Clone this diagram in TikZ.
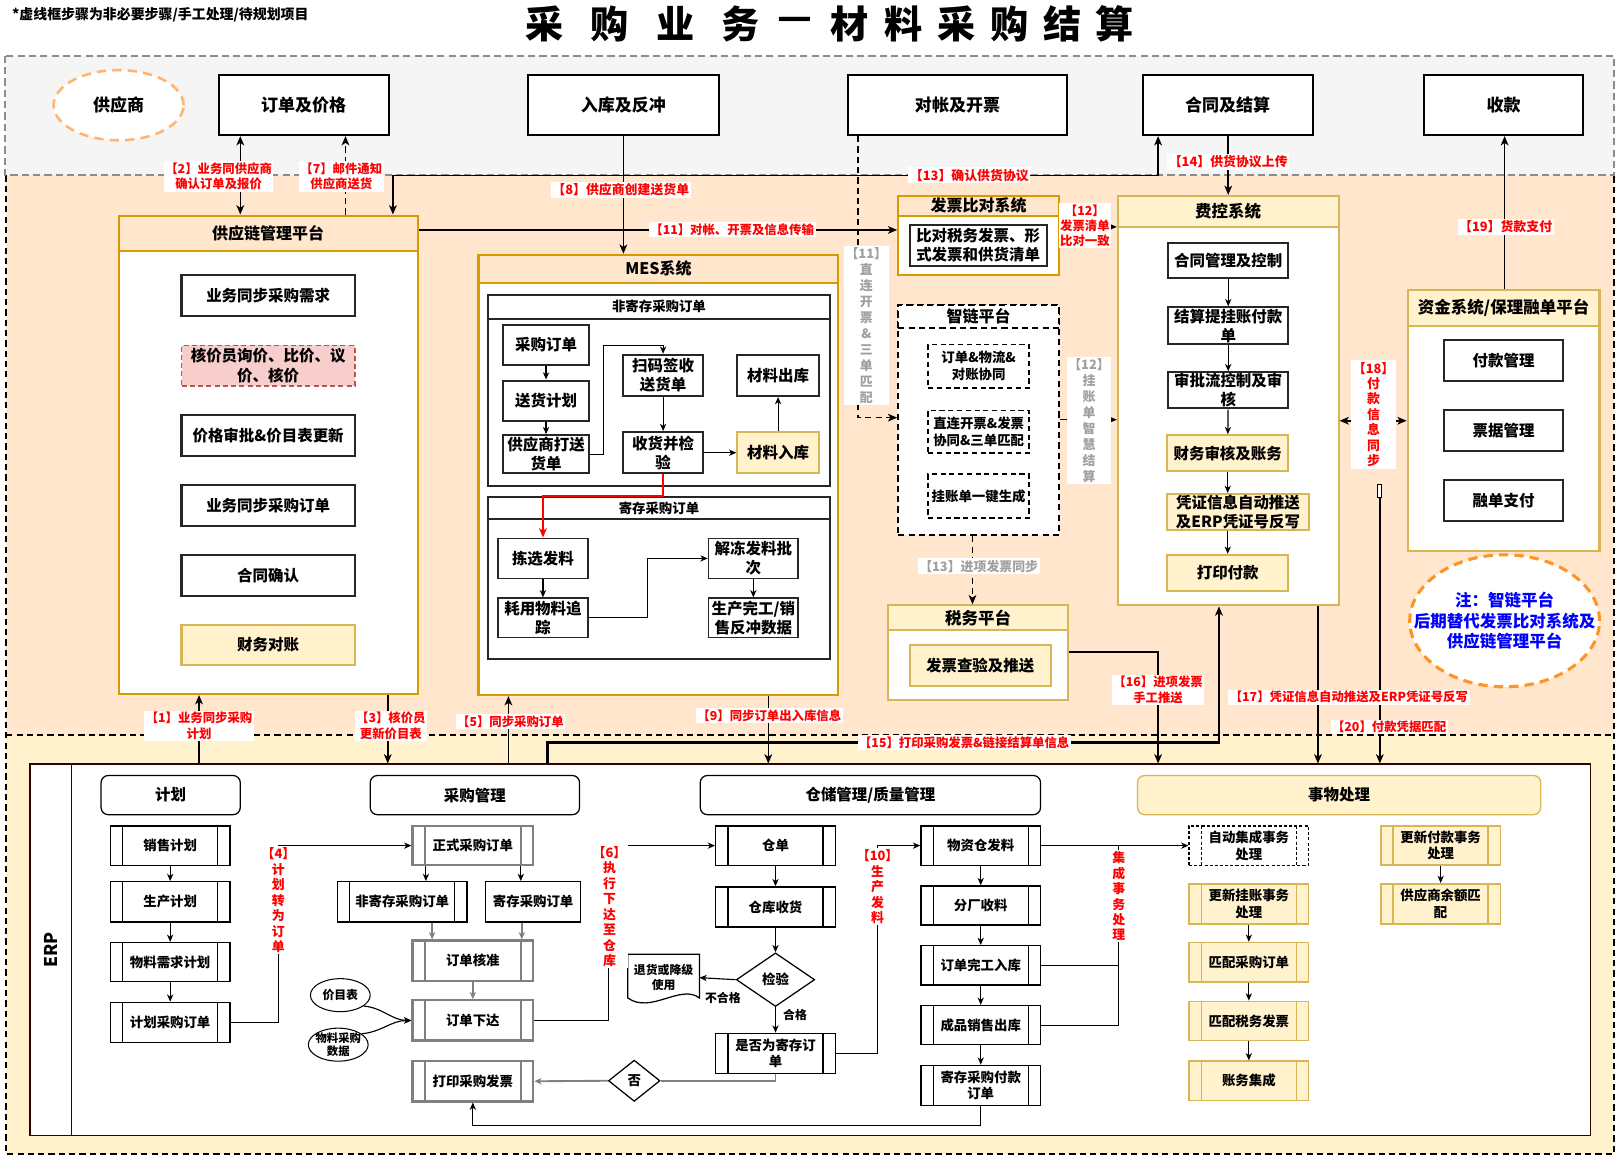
\documentclass[tikz,border=0pt]{standalone}
\usepackage{fontspec}
\setmainfont{Noto Sans CJK SC}
\usetikzlibrary{arrows.meta,shapes.geometric,calc}
\definecolor{grayband}{HTML}{F5F5F5}
\definecolor{grayline}{HTML}{8C8C8C}
\definecolor{orband}{HTML}{FFE6CC}
\definecolor{yelband}{HTML}{FFF2CC}
\definecolor{orline}{HTML}{D79B00}
\definecolor{yelline}{HTML}{D6B656}
\definecolor{pinkf}{HTML}{F8CECC}
\definecolor{pinkl}{HTML}{B85450}
\definecolor{supline}{HTML}{FFB570}
\definecolor{noteline}{HTML}{FF9326}
\definecolor{redt}{HTML}{FF0000}
\definecolor{grayt}{HTML}{A0A0A0}
\definecolor{bluet}{HTML}{0000FF}
\definecolor{boxgray}{HTML}{808080}
\definecolor{erpline}{HTML}{330000}
\newcommand{\fz}[2]{\fontsize{#1pt}{#2pt}\selectfont\bfseries}
\newcommand{\RB}[7]{%
  \pgfmathsetmacro{\rbx}{(#3+#5)/2}%
  \pgfmathsetmacro{\rby}{(#4+#6)/2}%
  \pgfmathsetmacro{\rbw}{#5-#3}%
  \pgfmathsetmacro{\rbh}{#6-#4}%
  \node[#1, minimum width=\rbw pt, minimum height=\rbh pt] (#2) at (\rbx,\rby) {#7};}
\tikzset{
  base/.style={rectangle, inner sep=0.5pt, align=center},
  tbox/.style={base, draw=black, line width=2pt, fill=white, font=\fz{16.5}{20}},
  ibox/.style={base, draw=black!85, line width=2pt, fill=white, font=\fz{15}{18.5}},
  ybox/.style={base, draw=yelline, line width=2pt, fill=yelband, font=\fz{15}{18.5}},
  contor/.style={base, draw=orline, line width=2pt, fill=white},
  heador/.style={base, draw=orline, line width=2pt, fill=orband, font=\fz{15.5}{18}},
  contyl/.style={base, draw=yelline, line width=2pt, fill=white},
  headyl/.style={base, draw=yelline, line width=2pt, fill=yelband, font=\fz{16}{19}},
  contdash/.style={base, draw=black, line width=2pt, dash pattern=on 6pt off 4pt, fill=white},
  headdash/.style={contdash, font=\fz{15.5}{18}},
  dbox/.style={base, draw=black, line width=1.8pt, dash pattern=on 5pt off 3.5pt, fill=white, font=\fz{13}{16.5}},
  subc/.style={base, draw=black!85, line width=2pt, fill=white},
  subh/.style={subc, font=\fz{13}{16}},
  proc/.style={path picture={\draw[#1] ([xshift=12pt]path picture bounding box.north west) -- ([xshift=12pt]path picture bounding box.south west) ([xshift=-12pt]path picture bounding box.north east) -- ([xshift=-12pt]path picture bounding box.south east);}},
  pb/.style={base, draw=black, line width=1.3pt, fill=white, font=\fz{13}{16}, proc={black, line width=1.3pt}},
  pg/.style={base, draw=boxgray, line width=2.2pt, fill=white, font=\fz{13}{16}, proc={boxgray, line width=2pt}},
  py/.style={base, draw=yelline, line width=1.5pt, fill=yelband, font=\fz{13}{16}, proc={yelline, line width=1.5pt}},
  pyd/.style={base, draw=black, line width=1.2pt, dash pattern=on 3pt off 2pt, fill=white, font=\fz{13}{16}, proc={black, line width=1.2pt, dash pattern=on 3pt off 2pt}},
  lanehd/.style={base, draw=black, line width=1.2pt, rounded corners=7pt, fill=white, font=\fz{15}{18}},
  arr/.style={line width=1.5pt, -{Stealth[length=9pt,width=7.5pt,inset=2.5pt]}},
  arrb/.style={line width=1.5pt, {Stealth[length=9pt,width=7.5pt,inset=2.5pt]}-{Stealth[length=9pt,width=7.5pt,inset=2.5pt]}},
  sarr/.style={line width=1.1pt, -{Stealth[length=7pt,width=6pt,inset=2pt]}},
  garr/.style={sarr, draw=boxgray, line width=1.8pt},
  sline/.style={line width=1.1pt},
  gline/.style={line width=1.8pt, draw=boxgray},
  rl/.style={base, fill=white, text=redt, font=\fz{12}{15}, inner sep=1.5pt},
  rlv/.style={rl, font=\fz{12.5}{15}},
  gl/.style={base, fill=white, text=grayt, font=\fz{12.5}{15.5}, inner sep=1.5pt},
  bandb/.style={draw=black, line width=1.8pt, dash pattern=on 6pt off 4pt},
}
\begin{document}
\begin{tikzpicture}[x=1pt,y=-1pt]
\useasboundingbox (0,0) rectangle (1568,1121);
\fill[white] (0,0) rectangle (1568,1121);
% ---------- bands
\fill[orband] (6,170) rectangle (1565,713);
\fill[yelband] (6,713) rectangle (1565,1119);
\draw[bandb] (6,170) -- (6,1119) -- (1565,1119) -- (1565,170);
\draw[bandb] (6,713) -- (1565,713);
\draw[draw=grayline, line width=1.8pt, dash pattern=on 7pt off 4pt, fill=grayband] (5,54) rectangle (1565,170);
% ---------- helper coordinates
\foreach \q in {69,193,233,270,335,376,381,413,419,493,505,506,531,585,590,628,745,832,851,943,1085,1123,1182,1191,1278,1459}
  \coordinate (v\q) at (\q,0);
\foreach \q in {170,220,223,335,405,407,408,481,632,720,1091}
  \coordinate (h\q) at (0,\q);
% ---------- title
\foreach \xx/\cc [count=\i] in {528/采,591/购,655/业,718/务,771/—,824/材,876/料,928/采,979/购,1030/结,1081/算}
  \node[base, font=\fz{37}{40}] (ttl\i) at (\xx,23) {\cc};
\node[base, anchor=west, font=\fz{13.5}{16}] (topnote) at (11,14) {*虚线框步骤为非必要步骤/手工处理/待规划项目};
% ---------- top band
\node[ellipse, draw=supline, line width=2.5pt, dash pattern=on 9pt off 6pt, fill=white, minimum width=126pt, minimum height=68pt, inner sep=0pt, font=\fz{16.5}{20}] (sup) at (115,102) {供应商};
\RB{tbox}{ordp}{212}{73}{377}{131}{订单及价格}
\RB{tbox}{rk}{512}{73}{697}{131}{入库及反冲}
\RB{tbox}{dz}{822}{73}{1035}{131}{对帐及开票}
\RB{tbox}{ht}{1108}{73}{1273}{131}{合同及结算}
\RB{tbox}{sk}{1381}{73}{1535}{131}{收款}
% ---------- supply chain platform
\RB{contor}{scm}{115}{209}{405}{673}{}
\RB{heador}{scmh}{115}{209}{405}{243}{供应链管理平台}
\RB{ibox}{s1}{176}{267}{344}{306}{业务同步采购需求}
\RB{ibox, fill=pinkf, draw=pinkl, line width=1.6pt, dash pattern=on 5pt off 3pt}{s2}{176}{335}{344}{374}{核价员询价、比价、议\\价、核价}
\RB{ibox}{s3}{176}{402}{344}{442}{价格审批\&价目表更新}
\RB{ibox}{s4}{176}{470}{344}{510}{业务同步采购订单}
\RB{ibox}{s5}{176}{538}{344}{578}{合同确认}
\RB{ybox}{s6}{176}{606}{344}{645}{财务对账}
% ---------- MES
\RB{contor}{mes}{464}{247}{813}{674}{}
\RB{heador}{mesh}{464}{247}{813}{274}{MES系统}
\RB{subc}{njc}{473}{286}{805}{471}{}
\RB{subh}{njch}{473}{286}{805}{309}{非寄存采购订单}
\RB{ibox}{m1}{488}{315}{571}{354}{采购订单}
\RB{ibox}{m2}{488}{369}{571}{408}{送货计划}
\RB{ibox}{m3}{488}{422}{571}{459}{供应商打送\\货单}
\RB{ibox}{m4}{604}{344}{682}{384}{扫码签收\\送货单}
\RB{ibox}{m5}{604}{419}{682}{459}{收货并检\\验}
\RB{ibox}{m6}{715}{344}{794}{384}{材料出库}
\RB{ybox}{m7}{715}{419}{794}{459}{材料入库}
\RB{subc}{jc}{473}{482}{805}{639}{}
\RB{subh}{jch}{473}{482}{805}{503}{寄存采购订单}
\RB{ibox, line width=1.5pt}{m8}{483}{522}{570}{561}{拣选发料}
\RB{ibox, line width=1.5pt}{m9}{483}{580}{570}{618}{耗用物料追\\踪}
\RB{ibox, line width=1.5pt}{m10}{687}{522}{774}{561}{解冻发料批\\次}
\RB{ibox, line width=1.5pt}{m11}{687}{580}{774}{618}{生产完工/销\\售反冲数据}
% ---------- invoice compare
\RB{contor}{fpbd}{871}{190}{1027}{267}{}
\RB{heador}{fpbdh}{871}{190}{1027}{209}{发票比对系统}
\RB{ibox}{fp1}{882}{218}{1015}{258}{比对税务发票、形\\式发票和供货清单}
% ---------- zhilian
\RB{contdash}{zl}{871}{296}{1027}{519}{}
\RB{headdash}{zlh}{871}{296}{1027}{318}{智链平台}
\RB{dbox}{z1}{900}{334}{998}{376}{订单\&物流\&\\对账协同}
\RB{dbox}{z2}{900}{398}{998}{439}{直连开票\&发票\\协同\&三单匹配}
\RB{dbox}{z3}{900}{460}{998}{502}{挂账单一键生成}
% ---------- tax
\RB{contyl}{sw}{861}{587}{1036}{679}{}
\RB{headyl}{swh}{861}{587}{1036}{611}{税务平台}
\RB{ybox}{sw1}{882}{625}{1019}{665}{发票查验及推送}
% ---------- fee control
\RB{contyl}{fk}{1084}{190}{1298}{587}{}
\RB{headyl}{fkh}{1084}{190}{1298}{220}{费控系统}
\RB{ibox}{f1}{1133}{236}{1249}{270}{合同管理及控制}
\RB{ibox}{f2}{1133}{298}{1249}{334}{结算提挂账付款\\单}
\RB{ibox}{f3}{1133}{361}{1249}{396}{审批流控制及审\\核}
\RB{ybox}{f4}{1132}{422}{1249}{457}{财务审核及账务}
\RB{ybox}{f5}{1132}{479}{1269}{514}{凭证信息自动推送\\及ERP凭证号反写}
\RB{ybox}{f6}{1132}{538}{1249}{573}{打印付款}
% ---------- funds
\RB{contyl}{zj}{1365}{281}{1551}{534}{}
\RB{headyl}{zjh}{1365}{281}{1551}{316}{资金系统/保理融单平台}
\RB{ibox}{j1}{1400}{330}{1516}{369}{付款管理}
\RB{ibox}{j2}{1400}{398}{1516}{437}{票据管理}
\RB{ibox}{j3}{1400}{465}{1516}{505}{融单支付}
% ---------- note
\node[ellipse, draw=noteline, line width=3pt, dash pattern=on 9pt off 6pt, fill=white, minimum width=184pt, minimum height=128pt, inner sep=0pt] (noteell) at (1459,602) {};
\node[base, text=bluet, font=\fz{16}{20}] (notetx) at (noteell.center) {注：智链平台\\后期替代发票比对系统及\\供应链管理平台};
\node[draw=black, line width=1pt, fill=white, minimum width=4pt, minimum height=12pt, inner sep=0pt] (m20) at (1338,476) {};
% ---------- ERP
\RB{base, draw=erpline, line width=1.3pt, fill=white}{erp}{29}{741}{1542}{1101}{}
\draw[draw=erpline, line width=1.1pt] (erp.north west -| v69) -- (erp.south west -| v69);
\node[base, rotate=90, font=\fz{17}{20}] (erplab) at (49,921) {ERP};
\RB{lanehd}{lh1}{98}{752}{233}{790}{计划}
\RB{lanehd}{lh2}{359}{752}{562}{790}{采购管理}
\RB{lanehd}{lh3}{679}{752}{1009}{790}{仓储管理/质量管理}
\RB{lanehd, fill=yelband, draw=yelline}{lh4}{1103}{752}{1494}{790}{事物处理}
\RB{pb}{e1}{107}{801}{223}{839}{销售计划}
\RB{pb}{e2}{107}{855}{223}{894}{生产计划}
\RB{pb}{e3}{107}{914}{223}{952}{物料需求计划}
\RB{pb}{e4}{107}{972}{223}{1011}{计划采购订单}
\RB{pg}{c1}{400}{801}{517}{839}{正式采购订单}
\RB{pb}{c2}{327}{855}{453}{894}{非寄存采购订单}
\RB{base, draw=black, line width=1.3pt, fill=white, font=\fz{13}{16}}{c3}{471}{855}{563}{894}{寄存采购订单}
\RB{pg}{c4}{400}{912}{517}{951}{订单核准}
\RB{pg}{c5}{400}{970}{517}{1009}{订单下达}
\RB{pg}{c6}{400}{1029}{517}{1068}{打印采购发票}
\node[ellipse, draw=black, line width=1pt, fill=white, minimum width=58pt, minimum height=32pt, inner sep=0pt, font=\fz{11.5}{13}] (c7) at (330,965) {价目表};
\node[ellipse, draw=black, line width=1pt, fill=white, minimum width=58pt, minimum height=32pt, inner sep=-3pt, align=center, font=\fz{11}{13}] (c8) at (328,1013) {物料采购\\数据};
\node[diamond, draw=black, line width=1.2pt, fill=white, minimum width=50pt, minimum height=40pt, inner sep=0pt, font=\fz{13}{16}] (fou) at (615,1048) {否};
\RB{pb}{w1}{694}{801}{810}{839}{仓单}
\RB{pb}{w2}{694}{860}{810}{899}{仓库收货}
\node[diamond, draw=black, line width=1.2pt, fill=white, minimum width=76pt, minimum height=52pt, inner sep=0pt, font=\fz{13}{16}] (w3) at (752,950) {检验};
\node[base, minimum width=69pt, minimum height=45pt, font=\fz{11.5}{15}] (w4) at (643.5,948) {退货或降级\\使用};
\draw[line width=1.2pt] (w4.north west) -- (w4.north east) -- ([yshift=3pt]w4.south east) .. controls +(-18,-14) and +(22,16) .. ([yshift=3pt]w4.south west) -- cycle;
\RB{pb}{w5}{694}{1002}{810}{1041}{是否为寄存订\\单}
\RB{pb}{w6}{893}{801}{1009}{839}{物资仓发料}
\RB{pb}{w7}{893}{859}{1009}{897}{分厂收料}
\RB{pb}{w8}{893}{917}{1009}{955}{订单完工入库}
\RB{pb}{w9}{893}{975}{1009}{1013}{成品销售出库}
\RB{pb}{w10}{893}{1033}{1009}{1072}{寄存采购付款\\订单}
\RB{pyd}{tx1}{1153}{801}{1269}{839}{自动集成事务\\处理}
\RB{py}{tx2}{1153}{857}{1269}{896}{更新挂账事务\\处理}
\RB{py}{tx3}{1153}{914}{1269}{952}{匹配采购订单}
\RB{py}{tx4}{1153}{971}{1269}{1009}{匹配税务发票}
\RB{py}{tx5}{1153}{1029}{1269}{1067}{账务集成}
\RB{py}{tx6}{1339}{801}{1455}{839}{更新付款事务\\处理}
\RB{py}{tx7}{1339}{857}{1455}{896}{供应商余额匹\\配}
% ---------- connectors: top / orange region
\draw[arrb] (ordp.south -| v233) -- (scm.north -| v233);
\draw[arr, dash pattern=on 6pt off 4pt] (scm.north -| v335) -- (ordp.south -| v335);
\draw[arrb] (scm.north -| v381) -- (v381 |- h170) -- (v1123 |- h170) -- (ht.south -| v1123);
\draw[arr] (rk.south) -- (rk.south |- mes.north);
\draw[arr] (scm.east |- h223) -- (fpbd.west |- h223);
\draw[arr, dash pattern=on 6pt off 4pt] (dz.south -| v832) -- (v832 |- h405) -- (zl.west |- h405);
\draw[arr] (fpbd.east |- h220) -- (fk.west |- h220);
\draw[arr] (zl.east |- h407) -- (fk.west |- h407);
\draw[arr, dash pattern=on 6pt off 4pt] (zl.south -| v943) -- (sw.north -| v943);
\draw[arr] (ht.south -| v1191) -- (fk.north -| v1191);
\draw[arr] (zj.north -| v1459) -- (sk.south -| v1459);
\draw[arrb] (fk.east |- h408) -- (zj.west |- h408);
\draw[arr] (m20.south) -- (m20.south |- erp.north);
\draw[arr] (fk.south -| v1278) -- (erp.north -| v1278);
\draw[arr] (sw.east |- h632) -| (erp.north -| v1123);
\draw[arr, line width=2.5pt] (erp.north -| v531) |- (v1182 |- h720) -- (fk.south -| v1182);
\draw[arr] (erp.north -| v193) -- (scm.south -| v193);
\draw[arr] (scm.south -| v376) -- (erp.north -| v376);
\draw[arr] (erp.north -| v493) -- (mes.south -| v493);
\draw[arr] (mes.south -| v745) -- (erp.north -| v745);
% MES internal
\draw[sarr] (m1) -- (m2);
\draw[sarr] (m2) -- (m3);
\draw[sarr] (m3.east) -- (v585 |- m3.east) -- (v585 |- h335) -- (m4.north |- h335) -- (m4.north);
\draw[sarr] (m4) -- (m5);
\draw[sarr] (m5) -- (m7);
\draw[sarr] (m7) -- (m6);
\draw[sarr, draw=redt, line width=2pt, -{Stealth[length=9pt,width=7.5pt,inset=2.5pt]}] (m5.south) -- (m5.south |- h481) -| (m8.north);
\draw[sarr] (m8) -- (m9);
\draw[sarr] (m9.east) -| (v628 |- m10.west) -- (m10.west);
\draw[sarr] (m10) -- (m11);
% fee control internal
\draw[sarr] (f1) -- (f2);
\draw[sarr] (f2) -- (f3);
\draw[sarr] (f3) -- (f4);
\draw[sarr] (f4.south) -- (f4.south |- f5.north);
\draw[sarr] (f5.south -| f6.north) -- (f6.north);
% ---------- ERP connectors
\draw[sarr] (e1) -- (e2);
\draw[sarr] (e2) -- (e3);
\draw[sarr] (e3) -- (e4);
\draw[sarr] (e4.east) -| (v270 |- c1.west) -- (c1.west);
\draw[sarr] (c1.south -| v413) -- (c2.north -| v413);
\draw[sarr] (c1.south -| v505) -- (c3.north -| v505);
\draw[garr] (c2.south -| v419) -- (c4.north -| v419);
\draw[garr] (c3.south -| v506) -- (c4.north -| v506);
\draw[garr] (c4) -- (c5);
\draw[sarr] (c7.-25) to[out=-5,in=180] (c5.west);
\draw[sarr] (c8.25) to[out=5,in=180] (c5.west);
\draw[sarr] (c5.east) -| (v590 |- w1.west) -- (w1.west);
\draw[sarr, draw=boxgray, line width=1.8pt] (fou.west) -- (c6.east);
\draw[gline] (w5.south) |- (fou.east);
\draw[sarr] (w10.south) -- (w10.south |- h1091) -| (c6.south);
\draw[sarr] (w1) -- (w2);
\draw[sarr] (w2) -- (w3);
\draw[sarr] (w3) -- (w5);
\draw[sarr] (w3.west) -- (w4.east);
\draw[sarr] (w5.east) -| (v851 |- w6.west) -- (w6.west);
\draw[sarr] (w6) -- (w7);
\draw[sarr] (w7) -- (w8);
\draw[sarr] (w8) -- (w9);
\draw[sarr] (w9) -- (w10);
\draw[sarr] (w6.east) -- (tx1.west);
\draw[sline] (w8.east) -- (w8.east -| v1085);
\draw[sline] (w9.east) -| (v1085 |- w6.east);
\draw[sarr] (tx2) -- (tx3);
\draw[sarr] (tx3) -- (tx4);
\draw[sarr] (tx4) -- (tx5);
\draw[sarr] (tx6) -- (tx7);
\node[base, font=\fz{11.5}{14}] (lbhg) at (701,968) {不合格};
\node[base, font=\fz{11.5}{14}] (lbg) at (771,984) {合格};
% ---------- labels
\node[rl] (L2) at (212,171) {【2】业务同供应商\\确认订单及报价};
\node[rl] (L7) at (331,171) {【7】邮件通知\\供应商送货};
\node[rl, font=\fz{12.5}{15}] (L8) at (602,184) {【8】供应商创建送货单};
\node[rl] (L11) at (710,223) {【11】对帐、开票及信息传输};
\node[rl, font=\fz{12.5}{15}] (L13) at (940,170) {【13】确认供货协议};
\node[rl, font=\fz{12.5}{15}] (L14) at (1191,157) {【14】供货协议上传};
\node[rl, inner sep=1pt] (L12) at (1052,219) {【12】\\发票清单\\比对一致};
\node[rl, font=\fz{12.5}{15}] (L19) at (1460,220) {【19】货款支付};
\node[rlv] (L18) at (1332,402) {【18】\\付\\款\\信\\息\\同\\步};
\node[gl] (L11g) at (840,316) {【11】\\直\\连\\开\\票\\\&\\三\\单\\匹\\配};
\node[gl] (L12g) at (1056,408) {【12】\\挂\\账\\单\\智\\慧\\结\\算};
\node[gl] (L13g) at (949,549) {【13】进项发票同步};
\node[rl] (L16) at (1123,669) {【16】进项发票\\手工推送};
\node[rl] (L17) at (1308,676) {【17】凭证信息自动推送及ERP凭证号反写};
\node[rl] (L20) at (1347,705) {【20】付款凭据匹配};
\node[rl] (L15) at (935,720) {【15】打印采购发票\&链接结算单信息};
\node[rl] (L9) at (746,694) {【9】同步订单出入库信息};
\node[rl] (L1) at (193,704) {【1】业务同步采购\\计划};
\node[rl] (L3) at (379,704) {【3】核价员\\更新价目表};
\node[rl] (L5) at (495,700) {【5】同步采购订单};
\node[rlv] (L4) at (270,873) {【4】\\计\\划\\转\\为\\订\\单};
\node[rlv] (L6) at (591,879) {【6】\\执\\行\\下\\达\\至\\仓\\库};
\node[rlv] (L10) at (851,860) {【10】\\生\\产\\发\\料};
\node[rlv] (Ljc) at (1085,869) {集\\成\\事\\务\\处\\理};
\end{tikzpicture}
\end{document}
